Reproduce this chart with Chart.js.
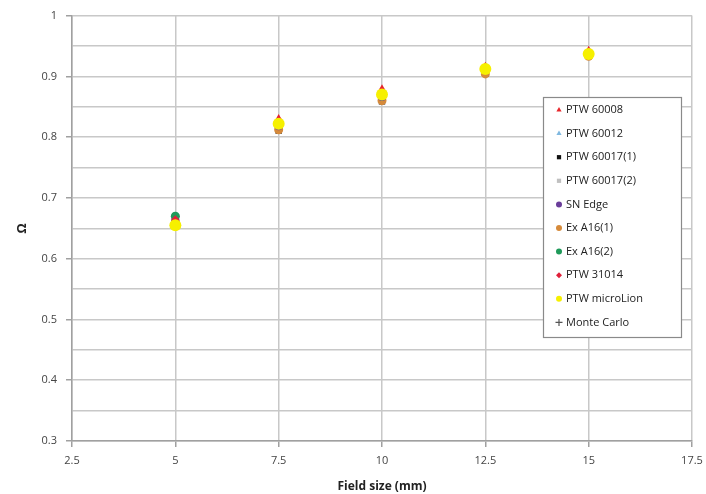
<!DOCTYPE html>
<html>
<head>
<meta charset="utf-8">
<script src="https://cdn.jsdelivr.net/npm/chart.js@4.4.0/dist/chart.umd.min.js"></script>
<style>
  html, body { margin: 0; padding: 0; background: #fff; }
  #wrap { width: 706px; height: 494px; }
</style>
</head>
<body>
<div id="wrap"><canvas id="chart" width="706" height="494"></canvas></div>
<script>
// field sizes in mm
const fieldSizes = [5, 7.5, 10, 12.5, 15];

const seriesNames = ["PTW 60008", "PTW 60012", "PTW 60017(1)", "PTW 60017(2)", "SN Edge",
  "Ex A16(1)", "Ex A16(2)", "PTW 31014", "PTW microLion", "Monte Carlo"];

const ptw60008 = [0.665, 0.830, 0.879, 0.916, 0.942];
const ptw60012 = [0.664, 0.826, 0.875, 0.915, 0.940];
const ptw60017a = [0.659, 0.811, 0.859, 0.904, 0.934];
const ptw60017b = [0.661, 0.815, 0.862, 0.907, 0.935];
const snEdge = [0.664, 0.818, 0.866, 0.910, 0.937];
const exA16a = [0.660, 0.812, 0.860, 0.904, 0.933];
const exA16b = [0.670, 0.822, 0.868, 0.912, 0.938];
const ptw31014 = [0.665, 0.828, 0.876, 0.915, 0.941];
const microLion = [0.655, 0.822, 0.870, 0.912, 0.937];
const monteCarlo = [0.662, 0.815, 0.864, 0.908, 0.936];

const yTicks = [0.3, 0.4, 0.5, 0.6, 0.7, 0.8, 0.9, 1];
const xTicks = [2.5, 5, 7.5, 10, 12.5, 15, 17.5];

const allValues = [ptw60008, ptw60012, ptw60017a, ptw60017b, snEdge, exA16a, exA16b, ptw31014, microLion, monteCarlo];

const styles = [
  { color: "#e8262b", point: "triangle", r: 5, order: 3 },
  { color: "#7fb8e0", point: "triangle", r: 5, order: 4 },
  { color: "#111111", point: "rect", r: 4.5, order: 8 },
  { color: "#c0c0c0", point: "rect", r: 4.5, order: 7 },
  { color: "#6a3d9a", point: "circle", r: 4, order: 5 },
  { color: "#d68a3a", point: "circle", r: 4.5, order: 6 },
  { color: "#1f9a5a", point: "circle", r: 4.5, order: 2 },
  { color: "#e0203a", point: "rectRot", r: 4, order: 1 },
  { color: "#f6f000", point: "circle", r: 6, order: 0 },
  { color: "#555555", point: "cross", r: 4, order: 9 }
];

const datasets = seriesNames.map((name, i) => ({
  label: name,
  data: fieldSizes.map((x, j) => ({ x: x, y: allValues[i][j] })),
  backgroundColor: styles[i].color,
  borderColor: styles[i].color,
  borderWidth: styles[i].point === "cross" ? 1 : 0,
  pointStyle: styles[i].point,
  pointRadius: styles[i].r,
  order: styles[i].order
}));

const FONT = "'Open Sans', 'Liberation Sans', sans-serif";

// legend drawn inside the plot like the original
const insideLegend = {
  id: "insideLegend",
  afterDraw(chart) {
    const c = chart.ctx;
    const bx = 543, by = 97, bw = 138, bh = 240;
    c.save();
    c.fillStyle = "#fff";
    c.fillRect(bx, by, bw, bh);
    c.strokeStyle = "#8a8a8a";
    c.lineWidth = 1.2;
    c.strokeRect(bx + 0.5, by + 0.5, bw, bh);
    c.font = "11px " + FONT;
    c.textBaseline = "middle";
    seriesNames.forEach((name, i) => {
      const y = by + 13 + i * 23.6;
      const st = styles[i];
      c.fillStyle = st.color;
      c.strokeStyle = st.color;
      c.lineWidth = 1.2;
      Chart.helpers.drawPoint(c, {
        pointStyle: st.point,
        radius: st.point === "cross" ? 3.5 : 3,
        borderWidth: st.point === "cross" ? 1.2 : 0
      }, bx + 16, y);
      c.fillStyle = "#222";
      c.fillText(name, bx + 23, y);
    });
    c.restore();
  }
};

new Chart(document.getElementById("chart"), {
  type: "scatter",
  data: { datasets: datasets },
  options: {
    responsive: false,
    animation: false,
    layout: { padding: { top: 14, right: 14, left: 0, bottom: 0 } },
    plugins: {
      legend: { display: false },
      tooltip: { enabled: false }
    },
    scales: {
      x: {
        type: "linear",
        min: 2.5,
        max: 17.5,
        afterBuildTicks: (s) => { s.ticks = xTicks.map((v) => ({ value: v })); },
        afterFit: (s) => { s.height = 53; s.paddingRight = 0; s.paddingLeft = 0; },
        border: { color: "#a0a0a0", width: 1.5 },
        grid: { color: "#c8c8c8", lineWidth: 1.5, tickLength: 6, tickColor: "#a0a0a0" },
        ticks: { color: "#444", font: { family: FONT, size: 11 }, padding: 7, maxRotation: 0 },
        title: {
          display: true,
          text: "Field size (mm)",
          color: "#222",
          font: { family: FONT, size: 12, weight: "bold" },
          padding: { top: 4, bottom: 0 }
        }
      },
      y: {
        min: 0.3,
        max: 1,
        afterBuildTicks: (s) => {
          const t = [];
          for (let k = 0; k <= 14; k++) t.push({ value: Math.round((0.3 + k * 0.05) * 100) / 100 });
          s.ticks = t;
        },
        afterFit: (s) => { s.width = 72; },
        border: { color: "#a0a0a0", width: 1.5 },
        grid: {
          color: "#c8c8c8",
          lineWidth: 1.5,
          tickLength: 6,
          tickColor: (ctx) => yTicks.some((v) => Math.abs(v - ctx.tick.value) < 1e-6) ? "#a0a0a0" : "rgba(0,0,0,0)"
        },
        ticks: {
          color: "#444",
          font: { family: FONT, size: 11 },
          padding: 9,
          callback: (v) => yTicks.some((t) => Math.abs(t - v) < 1e-6) ? String(Math.round(v * 10) / 10) : ""
        },
        title: {
          display: true,
          text: "Ω",
          color: "#222",
          font: { family: FONT, size: 13, weight: "bold" },
          padding: { top: 14, bottom: 0 }
        }
      }
    }
  },
  plugins: [insideLegend]
});
</script>
</body>
</html>
